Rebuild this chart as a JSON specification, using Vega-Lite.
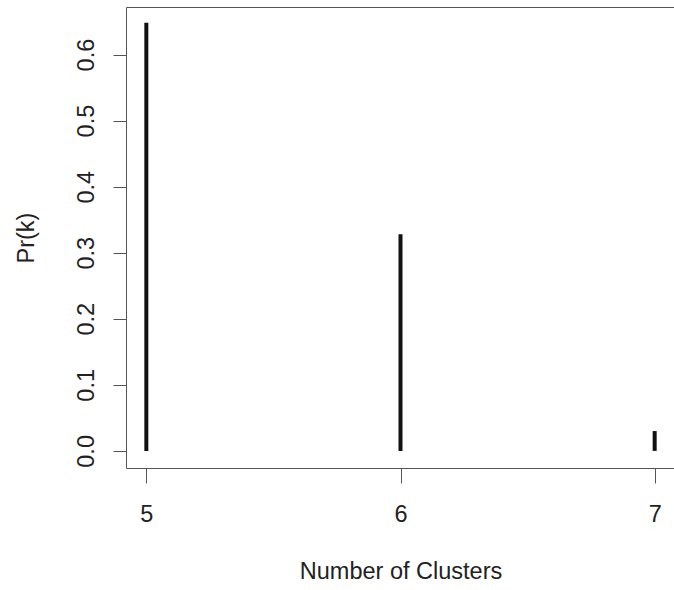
{
  "$schema": "https://vega.github.io/schema/vega-lite/v6.json",
  "autosize": {"type": "none"},
  "padding": {"left": 126, "top": 7, "right": 0, "bottom": 122},
  "width": 549,
  "height": 461,
  "background": "white",
  "config": {
    "view": {"stroke": "#555555", "strokeWidth": 1},
    "font": "Liberation Sans"
  },
  "data": {
    "values": [
      {"k": 5, "p": 0.648},
      {"k": 6, "p": 0.328},
      {"k": 7, "p": 0.030}
    ]
  },
  "mark": {"type": "rule", "strokeWidth": 4, "color": "#111111"},
  "encoding": {
    "x": {
      "field": "k",
      "type": "quantitative",
      "scale": {"domain": [4.92, 7.08], "nice": false, "zero": false},
      "axis": {
        "values": [5, 6, 7],
        "format": "d",
        "grid": false,
        "domain": false,
        "tickColor": "#555555",
        "tickSize": 15,
        "labelFont": "Liberation Sans",
        "labelFontSize": 23.5,
        "labelColor": "#222222",
        "labelBaseline": "alphabetic",
        "labelPadding": 38,
        "labelFlush": false,
        "labelOverlap": false,
        "title": "Number of Clusters",
        "titleFont": "Liberation Sans",
        "titleFontSize": 23.5,
        "titleFontWeight": "normal",
        "titleColor": "#222222",
        "titleBaseline": "alphabetic",
        "titleAnchor": "middle",
        "titleY": 110
      }
    },
    "y": {
      "field": "p",
      "type": "quantitative",
      "scale": {"domain": [-0.0259, 0.672], "nice": false, "zero": false},
      "axis": {
        "values": [0, 0.1, 0.2, 0.3, 0.4, 0.5, 0.6],
        "format": ".1f",
        "grid": false,
        "domain": false,
        "tickColor": "#555555",
        "tickSize": 13,
        "labelFont": "Liberation Sans",
        "labelFontSize": 23.5,
        "labelColor": "#222222",
        "labelAngle": -90,
        "labelAlign": "center",
        "labelBaseline": "alphabetic",
        "labelPadding": 20,
        "labelOverlap": false,
        "labelFlush": false,
        "title": "Pr(k)",
        "titleFont": "Liberation Sans",
        "titleFontSize": 23.5,
        "titleFontWeight": "normal",
        "titleColor": "#222222",
        "titleAngle": -90,
        "titleAlign": "center",
        "titleBaseline": "alphabetic",
        "titleX": -93,
        "titleY": 230.5
      }
    },
    "y2": {"datum": 0}
  }
}
